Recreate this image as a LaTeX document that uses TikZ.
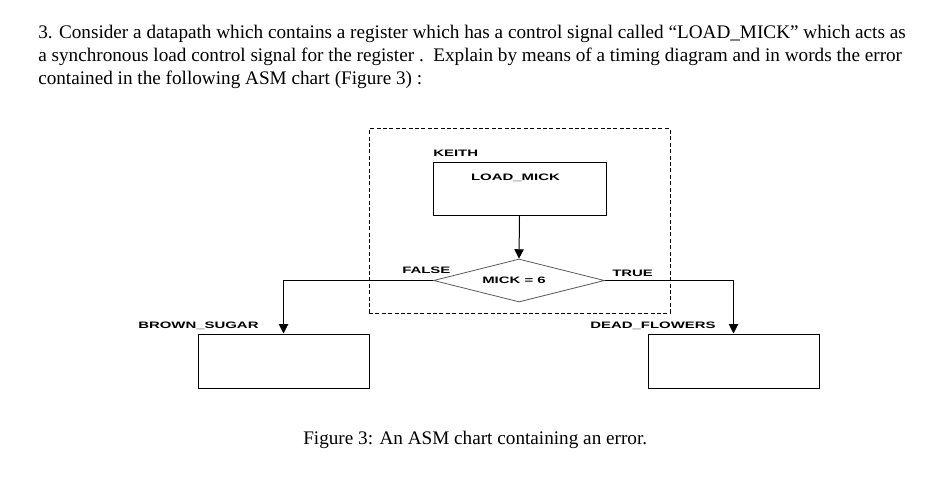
\documentclass[tikz,border=0pt]{standalone}
\usepackage{fontspec}
\setmainfont{Liberation Serif}
\setsansfont{Liberation Sans}
\usetikzlibrary{shapes.geometric,arrows.meta}
\newcommand{\asmlbl}[1]{\scalebox{1.6}[1]{\sffamily\bfseries\fontsize{7pt}{8pt}\selectfont #1}}
\tikzset{
  bodytext/.style={anchor=base west,inner sep=0pt,font=\fontsize{14.4pt}{17pt}\selectfont},
  lbl/.style={inner sep=0pt,anchor=base west},
  box/.style={draw,line width=0.75pt,inner sep=0pt,minimum width=171*0.75pt,minimum height=54*0.75pt},
  arr/.style={line width=0.75pt,-{Triangle[width=7pt,length=7pt]}},
}
\begin{document}
\begin{tikzpicture}[x=0.75pt,y=-0.75pt]
\useasboundingbox (0,0) rectangle (930,481);
% body text
\node[bodytext] (t1) at (38,39) {3. Consider a datapath which contains a register which has a control signal called “LOAD\_MICK” which acts as};
\node[bodytext] (t2) at (38,62) {a synchronous load control signal for the register .\ \ Explain by means of a timing diagram and in words the error};
\node[bodytext] (t3) at (38,85) {contained in the following ASM chart (Figure 3) :};
% dashed ASM block
\node[draw,dash pattern=on 3pt off 1.8pt,line width=0.75pt,inner sep=0pt,minimum width=301*0.75pt,minimum height=184*0.75pt] (blk) at (519.5,221) {};
% state box
\node[box,minimum width=173*0.75pt,minimum height=53*0.75pt] (lm) at (519.5,188.5) {};
\node[lbl] (keith) at (433,156.5) {\asmlbl{KEITH}};
\node[lbl,anchor=base] (lmt) at (515.5,180.5) {\asmlbl{LOAD\_MICK}};
% decision
\node[diamond,draw=black!65,line width=0.6pt,inner sep=0pt,minimum width=171*0.75pt,minimum height=43*0.75pt] (d) at (519,280.5) {};
\node[lbl,anchor=base] (dt) at (514,283.5) {\asmlbl{MICK = 6}};
\node[lbl] (f) at (402,273) {\asmlbl{FALSE}};
\node[lbl] (tr) at (612,276) {\asmlbl{TRUE}};
% next states
\node[box] (bs) at (283.5,361) {};
\node[box] (df) at (733.5,361) {};
\node[lbl] (bst) at (138,328.5) {\asmlbl{BROWN\_SUGAR}};
\node[lbl] (dft) at (590,328.5) {\asmlbl{DEAD\_FLOWERS}};
% connectors
\draw[arr] (lm.south) -- (d.north);
\draw[arr] (d.west) -| (bs.north);
\draw[arr] (d.east) -| (df.north);
% caption
\node[bodytext] (cap) at (303,444) {Figure 3: An ASM chart containing an error.};
\end{tikzpicture}
\end{document}
